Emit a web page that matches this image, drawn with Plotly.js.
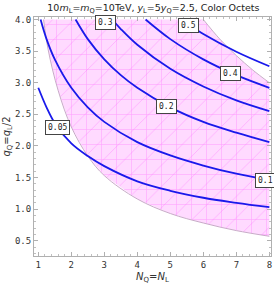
<!DOCTYPE html>
<html>
<head>
<meta charset="utf-8">
<script src="https://cdn.plot.ly/plotly-3.0.1.min.js"></script>
<style>html,body{margin:0;padding:0;background:#fff;}#plot{width:274px;height:284px;}</style>
</head>
<body>
<div id="plot"></div>
<script>
// Contour levels and their curves (N, q)
const levels = ['0.05', '0.1', '0.2', '0.3', '0.4', '0.5'];
const c005_x = [1.0, 1.25, 1.5, 2.0, 2.5, 3.0, 4.0, 5.0, 6.0, 7.0, 8.0];
const c005_y = [2.92, 2.61, 2.36, 2.04, 1.84, 1.68, 1.44, 1.29, 1.18, 1.10, 1.03];
const c01_x = [1.07, 1.25, 1.5, 2.0, 2.5, 3.0, 4.0, 5.0, 6.0, 7.0, 8.0];
const c01_y = [4.0, 3.69, 3.37, 2.92, 2.61, 2.38, 2.06, 1.85, 1.69, 1.56, 1.46];
const c02_x = [2.13, 2.5, 3.0, 3.5, 4.0, 5.0, 6.0, 7.0, 8.0];
const c02_y = [4.0, 3.69, 3.37, 3.12, 2.92, 2.61, 2.38, 2.21, 2.06];
const c03_x = [3.24, 3.5, 4.0, 5.0, 6.0, 7.0, 8.0];
const c03_y = [4.0, 3.85, 3.60, 3.22, 2.94, 2.72, 2.55];
const c04_x = [4.25, 5.0, 6.0, 7.0, 8.0];
const c04_y = [4.0, 3.69, 3.37, 3.12, 2.92];
const c05_x = [5.32, 6.0, 7.0, 8.0];
const c05_y = [4.0, 3.77, 3.49, 3.26];
// Contour label anchor points
const lab_x = [1.57, 7.87, 4.87, 3.05, 6.81, 5.54];
const lab_y = [2.29, 1.46, 2.63, 3.96, 3.15, 3.90];
// Allowed (shaded) region boundaries
const lower_x = [1.16, 1.3, 1.6, 2.0, 2.5, 3.0, 4.0, 5.0, 6.0, 7.0, 8.0];
const lower_y = [4.0, 3.52, 2.88, 2.30, 1.84, 1.53, 1.16, 0.93, 0.78, 0.66, 0.57];
const upper_x = [6.0, 6.5, 7.0, 7.5, 8.0];
const upper_y = [4.0, 3.69, 3.43, 3.2, 3.0];
const xTicks = [1, 2, 3, 4, 5, 6, 7, 8];
const yTicks = [0.5, 1.0, 1.5, 2.0, 2.5, 3.0, 3.5, 4.0];

// polygon: top edge from lower boundary start to upper boundary start, upper boundary, right edge, lower boundary reversed
const polyX = [lower_x[0]].concat(upper_x, [8.0], lower_x.slice().reverse());
const polyY = [lower_y[0]].concat(upper_y, [lower_y[lower_y.length-1]], lower_y.slice().reverse());

const traces = [];
traces.push({x: polyX, y: polyY, mode: 'lines', fill: 'toself', line: {width: 0, color: 'rgba(0,0,0,0)'},
  fillcolor: 'rgb(255,218,255)',
  fillpattern: {shape: '+', size: 15, solidity: 0.08, fgcolor: 'rgba(255,120,255,0.55)', bgcolor: 'rgb(255,218,255)', fillmode: 'replace'},
  hoverinfo: 'skip', showlegend: false});
traces.push({x: polyX, y: polyY, mode: 'lines', fill: 'toself', line: {width: 0, color: 'rgba(0,0,0,0)'},
  fillcolor: 'rgba(0,0,0,0)',
  fillpattern: {shape: '/', size: 15, solidity: 0.06, fgcolor: 'rgba(255,120,255,0.45)', bgcolor: 'rgba(0,0,0,0)', fillmode: 'replace'},
  hoverinfo: 'skip', showlegend: false});
traces.push({x: lower_x, y: lower_y, mode: 'lines', line: {color: 'rgb(200,170,200)', width: 1, shape: 'spline'}, showlegend: false});
traces.push({x: upper_x, y: upper_y, mode: 'lines', line: {color: 'rgb(200,180,200)', width: 1, shape: 'spline'}, showlegend: false});

const curves = [[c005_x, c005_y], [c01_x, c01_y], [c02_x, c02_y], [c03_x, c03_y], [c04_x, c04_y], [c05_x, c05_y]];
curves.forEach(function(c) {
  traces.push({x: c[0], y: c[1], mode: 'lines', line: {color: 'rgb(25,25,235)', width: 1.8, shape: 'spline', smoothing: 1}, showlegend: false});
});

const annotations = levels.map(function(t, i) {
  return {x: lab_x[i], y: lab_y[i], xref: 'x', yref: 'y', text: t, showarrow: false,
    font: {family: 'DejaVu Sans Mono', size: 8, color: '#222'}, bgcolor: '#fff', bordercolor: '#444', borderwidth: 1, borderpad: 2};
});

const axisCommon = {showgrid: false, zeroline: false, showline: true, linecolor: '#b0b0b0', linewidth: 1, mirror: 'ticks',
  ticks: 'inside', ticklen: 4, tickcolor: '#b0b0b0', tickwidth: 1,
  tickfont: {family: 'DejaVu Sans Mono', size: 9, color: '#333'}};

const layout = {
  width: 274, height: 284,
  margin: {l: 34, r: 3, t: 17, b: 28},
  paper_bgcolor: '#fff', plot_bgcolor: '#fff',
  title: {text: '10<i>m</i><sub>L</sub>=<i>m</i><sub>Q</sub>=10TeV, <i>y</i><sub>L</sub>=5<i>y</i><sub>Q</sub>=2.5, Color Octets',
    font: {family: 'DejaVu Sans', size: 9.5, color: '#222'}, x: 0.56, xanchor: 'center', y: 0.985, yanchor: 'top'},
  xaxis: Object.assign({}, axisCommon, {range: [0.87, 8.05], tickvals: xTicks, ticktext: xTicks.map(String),
    minor: {ticks: 'inside', ticklen: 2, tickcolor: '#c0c0c0', dtick: 0.2, tick0: 1},
    title: {text: '<i>N</i><sub>Q</sub>=<i>N</i><sub>L</sub>', font: {family: 'DejaVu Sans', size: 10, color: '#333'}, standoff: 4}}),
  yaxis: Object.assign({}, axisCommon, {range: [0.258, 4.04], tickvals: yTicks, ticktext: yTicks.map(function(v){return v.toFixed(1);}),
    minor: {ticks: 'inside', ticklen: 2, tickcolor: '#c0c0c0', dtick: 0.1, tick0: 0},
    title: {text: '<i>q</i><sub>Q</sub>=<i>q</i><sub>L</sub>/2', font: {family: 'DejaVu Sans', size: 10, color: '#333'}, standoff: 2}}),
  annotations: annotations,
  showlegend: false
};

Plotly.newPlot('plot', traces, layout, {displayModeBar: false, staticPlot: true});
</script>
</body>
</html>
